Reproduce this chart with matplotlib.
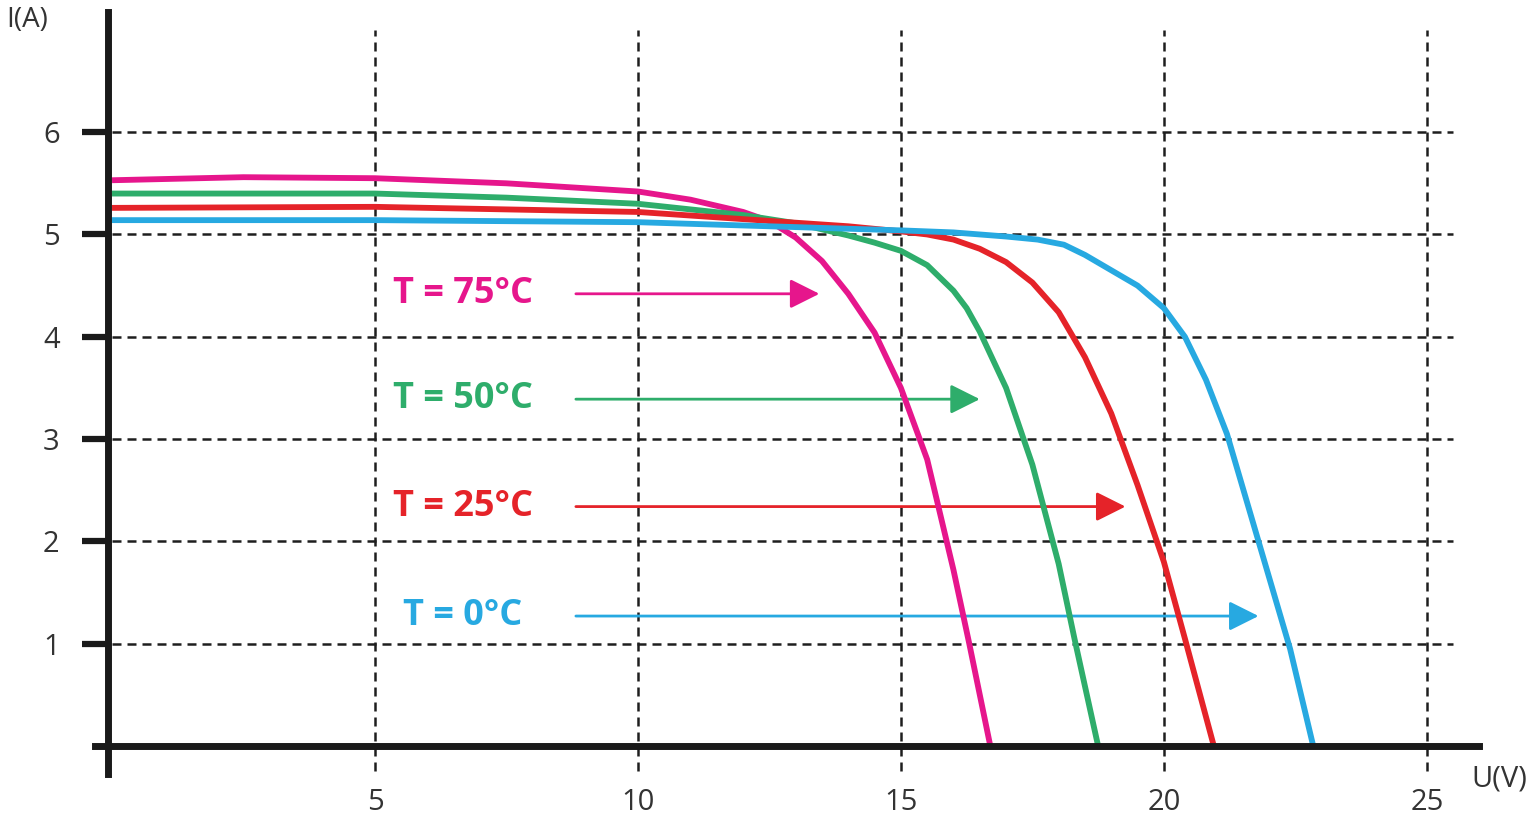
import matplotlib
matplotlib.use("Agg")
import matplotlib.pyplot as plt

plt.rcParams['font.family'] = ['Open Sans', 'DejaVu Sans']

# I-U curves of a solar module at four temperatures
temps = [75, 50, 25, 0]
colors = ['#E6168C', '#2EAD6B', '#E52329', '#27A9E1']

u_75 = [0, 2.5, 5, 7.5, 10, 11, 12, 12.5, 13, 13.5, 14, 14.5, 15, 15.5, 16, 16.3, 16.7]
i_75 = [5.53, 5.56, 5.55, 5.50, 5.42, 5.34, 5.22, 5.13, 4.97, 4.74, 4.42, 4.04, 3.50, 2.80, 1.72, 1.00, 0]

u_50 = [0, 5, 7.5, 10, 12, 13, 14, 14.5, 15, 15.5, 16, 16.25, 16.5, 17, 17.5, 18, 18.3, 18.75]
i_50 = [5.40, 5.40, 5.36, 5.30, 5.19, 5.11, 4.99, 4.92, 4.84, 4.70, 4.45, 4.28, 4.05, 3.50, 2.75, 1.78, 1.05, 0]

u_25 = [0, 5, 10, 12, 14, 15, 15.5, 16, 16.5, 17, 17.5, 18, 18.5, 19, 19.5, 20, 20.4, 20.95]
i_25 = [5.26, 5.27, 5.22, 5.15, 5.08, 5.03, 5.00, 4.95, 4.86, 4.73, 4.53, 4.24, 3.80, 3.25, 2.55, 1.80, 1.05, 0]

u_0 = [0, 5, 10, 12.5, 15, 16, 17, 17.6, 18.1, 18.5, 19, 19.5, 20, 20.4, 20.8, 21.2, 21.6, 22.0, 22.4, 22.84]
i_0 = [5.14, 5.14, 5.12, 5.08, 5.04, 5.02, 4.98, 4.95, 4.90, 4.80, 4.65, 4.50, 4.28, 4.0, 3.58, 3.05, 2.35, 1.65, 0.95, 0]

curves = [(u_75, i_75), (u_50, i_50), (u_25, i_25), (u_0, i_0)]

# label arrows: height (A) and tip voltage (V)
arrow_i = [4.42, 3.39, 2.34, 1.27]
arrow_tip = [13.45, 16.5, 19.27, 21.8]
arrow_start = 8.82
label_u = 6.67

x_ticks = [5, 10, 15, 20, 25]
y_ticks = [1, 2, 3, 4, 5, 6]

fig = plt.figure(figsize=(15.32, 8.19), dpi=100)
ax = fig.add_axes([0, 0, 1, 1])
ax.set_xlim(-2.13, 27.0)
ax.set_ylim(-0.714, 7.292)

# dashed grid
grid_kw = dict(colors='#1e1e1e', linewidth=1.8, linestyles=(0, (3.6, 2.4)), zorder=1)
ax.vlines(x_ticks, -0.24, 7.0, **grid_kw)
ax.hlines(y_ticks, 0, 25.5, **grid_kw)

for (u, i), c in zip(curves, colors):
    ax.plot(u, i, color=c, lw=4.2, solid_capstyle='butt',
            solid_joinstyle='round', zorder=4)

for t, c, yi, tip in zip(temps, colors, arrow_i, arrow_tip):
    ax.annotate('', xy=(tip, yi), xytext=(arrow_start, yi),
                arrowprops=dict(arrowstyle='-|>,head_length=0.9,head_width=0.45',
                                mutation_scale=20, color=c, lw=2,
                                shrinkA=0, shrinkB=0), zorder=3)
    ax.text(label_u, yi, f'T = {t}°C', color=c, fontsize=26, fontweight='bold',
            ha='center', va='center', zorder=5)

# axes lines through the origin
for side in ['top', 'right']:
    ax.spines[side].set_visible(False)
ax.spines['left'].set_position(('data', -0.07))
ax.spines['bottom'].set_position(('data', 0))
ax.spines['left'].set_bounds(-0.27, 7.17)
ax.spines['bottom'].set_bounds(-0.32, 26.0)
for side in ['left', 'bottom']:
    ax.spines[side].set_linewidth(5)
    ax.spines[side].set_color('#1a1a1a')
    ax.spines[side].set_zorder(6)

ax.set_xticks(x_ticks)
ax.set_yticks(y_ticks)
ax.tick_params(axis='y', direction='out', length=19, width=4.5, color='#1a1a1a',
               pad=16, labelsize=21, labelcolor='#333333')
ax.tick_params(axis='x', length=0, pad=30, labelsize=21, labelcolor='#333333')

ax.text(-1.61, 7.10, 'I(A)', fontsize=20, color='#333333', ha='center', va='center')
ax.text(26.37, -0.32, 'U(V)', fontsize=21, color='#333333', ha='center', va='center')

fig.savefig('out.png', dpi=100)
